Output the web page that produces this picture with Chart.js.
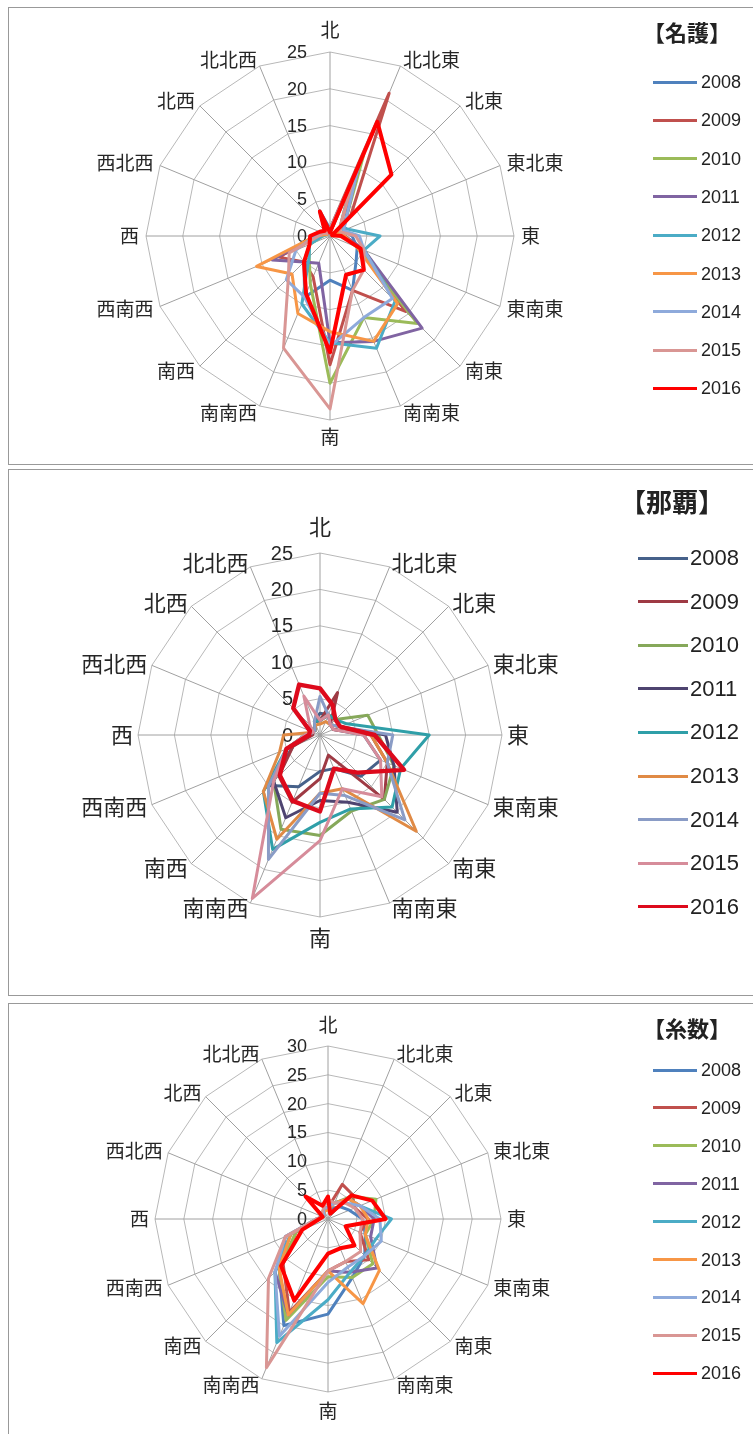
<!DOCTYPE html>
<html>
<head>
<meta charset="utf-8">
<script src="https://cdn.jsdelivr.net/npm/chart.js@4/dist/chart.umd.min.js"></script>
<style>
  body { margin: 0; background: #fff; width: 753px; height: 1434px; overflow: hidden; position: relative; }
  .frame { position: absolute; left: 8px; width: 820px; border: 1px solid #999; box-sizing: border-box; }
  canvas { position: absolute; left: 0; }
  .title { position: absolute; font-family: "Noto Sans CJK JP"; font-weight: bold; color: #222; white-space: nowrap; transform: translate(-50%, -50%); }
  .key { position: absolute; height: 20px; }
  .key i { position: absolute; left: 0; top: 50%; height: 3px; margin-top: -1.5px; }
  .key span { position: absolute; top: 50%; transform: translateY(-50%); font-family: "Liberation Sans"; color: #222; white-space: nowrap; }
</style>
</head>
<body>
<div class="frame" style="top:7px;height:458px"></div>
<div class="frame" style="top:469px;height:527px"></div>
<div class="frame" style="top:1003px;height:500px"></div>

<canvas id="nago" width="753" height="466" style="top:0"></canvas>
<canvas id="naha" width="753" height="534" style="top:466px"></canvas>
<canvas id="itokazu" width="753" height="434" style="top:1000px"></canvas>

<script>
// ---- data -------------------------------------------------------------
const directions = ['北', '北北東', '北東', '東北東', '東', '東南東', '南東', '南南東',
                    '南', '南南西', '南西', '西南西', '西', '西北西', '北西', '北北西'];
const years = ['2008', '2009', '2010', '2011', '2012', '2013', '2014', '2015', '2016'];

// 名護 (one row per year, 16 directions starting at 北, clockwise)
const nagoValues = [
  [1, 8, 3, 2, 3, 4, 5, 8, 6, 9, 5, 3, 1.5, 1, 1, 3.7],
  [1, 21, 4, 1, 2, 5, 14.5, 8, 17.5, 6, 5, 7.5, 2, 1, 0.5, 1],
  [0.5, 12, 3, 1, 2, 4, 16.8, 12, 20, 7, 4, 3, 1, 0.5, 0.5, 1],
  [0.5, 10, 3, 1, 2, 5, 17.7, 15.5, 14.5, 4, 5, 8.5, 2, 1, 0.5, 1],
  [1, 7, 2, 2.5, 6.8, 5, 12.5, 16.5, 14.5, 10, 4, 3, 1, 0.5, 1, 2],
  [0.5, 8, 2, 1, 2, 4, 13, 15.5, 13, 11.4, 7.3, 10.8, 2, 0.5, 0.5, 1],
  [1, 10, 3, 2, 4, 5, 12, 12, 15, 9, 8.4, 5, 2, 1, 1, 1.5],
  [1, 8, 2, 1.5, 3.5, 5, 6.5, 8, 23.5, 16.5, 8, 6, 1.5, 1, 0.5, 1],
  [0.5, 16.8, 11.8, 0.3, 1.5, 4.5, 6.5, 5.7, 15.8, 8.5, 5, 3, 2.7, 1.5, 1, 3.6]
];

// 那覇
const nahaValues = [
  [3, 3, 2, 2, 6, 9, 8, 5, 5, 7.7, 9.8, 4, 1.5, 1, 1, 2],
  [2, 6.3, 2, 2, 7, 10, 12.5, 3, 6, 10, 8, 4, 1, 1, 1, 2],
  [2, 3, 3, 7.1, 8, 11, 12.5, 11.3, 13.8, 14, 9, 5, 2, 1, 1, 2],
  [2, 3, 2, 3, 9, 11, 15, 10, 9, 12.3, 9, 5, 2, 1, 1, 2],
  [2, 3, 3, 4, 15, 12, 14, 11, 12, 17, 11, 5, 2, 1, 1, 2],
  [1.5, 2, 2, 3, 7, 10, 18.7, 8, 8, 15.5, 11, 6, 5, 1, 1, 1.5],
  [5.3, 3, 2, 3, 10, 10, 16.5, 9, 8, 18.5, 10, 5, 2, 1, 1, 2],
  [2, 3, 2, 2, 6, 9, 12, 8, 14.5, 24.3, 9, 5, 2, 1, 2, 5.8],
  [6.4, 4.5, 3, 3, 7.5, 12.5, 7.3, 5, 10.5, 9.8, 7.8, 5, 1.5, 1.5, 5.2, 7.5]
];

// 糸数
const itokazuValues = [
  [2, 2, 3, 4, 6, 7, 9, 11, 16.5, 20, 12, 8, 2, 1, 1, 1.5],
  [2, 6.5, 6, 5, 7, 6, 10, 8, 9, 17.5, 11, 6, 1.5, 1, 1, 2],
  [2, 3, 5.5, 9, 8, 7, 11, 11, 10, 19, 12, 6, 1.5, 1, 1, 2],
  [2, 3, 5, 6, 8, 8, 12, 10, 9, 18, 13, 7, 2, 1, 1, 2],
  [2, 3, 5, 6, 11, 9, 9, 10, 14, 23.2, 13, 7, 2, 1, 1, 2],
  [1.5, 3, 5, 6, 7, 7, 12.6, 15.9, 9, 18, 12, 7, 2, 1, 1, 1.5],
  [2, 3, 4, 6, 9, 10, 9, 9, 11, 22, 13, 8, 2, 1, 1, 2],
  [3.4, 3, 4, 5, 6, 6, 8, 8, 9, 27.9, 14.6, 8, 2, 1, 1.5, 2],
  [3.9, 1, 5.8, 8.3, 10, 3.3, 6.5, 5.5, 6, 15.3, 11.5, 4.8, 1.5, 1, 5.5, 2.5]
];

const officeColors = ['#4F81BD', '#C0504D', '#9BBB59', '#8064A2', '#4BACC6',
                      '#F79646', '#8EAADB', '#D99694', '#FF0000'];
const nahaColors = ['#46618a', '#9e3a44', '#86a85a', '#4e4470', '#2f9fa8',
                    '#e08a45', '#8a9cc6', '#d68c9a', '#dd0a1c'];

// ---- drawing ----------------------------------------------------------

// tick numbers (incl. 0) left of the 北 axis, and the direction names
const axisText = {
  id: 'axisText',
  beforeDatasetsDraw(chart, args, o) {
    const s = chart.scales.r;
    const ctx = chart.ctx;
    ctx.save();
    ctx.fillStyle = '#262626';
    ctx.font = o.tickSize + 'px "Liberation Sans"';
    ctx.textAlign = 'right';
    ctx.textBaseline = 'middle';
    s.ticks.forEach(t => {
      const y = s.yCenter - s.getDistanceFromCenterForValue(t.value);
      ctx.fillText(String(t.value), s.xCenter - o.tickGap, y + 1);
    });

    ctx.font = o.labelSize + 'px "Noto Sans CJK JP"';
    directions.forEach((name, i) => {
      const deg = i * 360 / directions.length;
      let dist, align;
      if (deg === 0) { dist = s.drawingArea + o.northGap + o.labelSize / 2; align = 'center'; }
      else if (deg === 180) { dist = s.drawingArea + o.southGap + o.labelSize / 2; align = 'center'; }
      else { dist = s.drawingArea + o.sideGap; align = deg < 180 ? 'left' : 'right'; }
      const p = s.getPointPosition(i, dist);
      ctx.textAlign = align;
      ctx.fillText(name, p.x, p.y);
    });
    ctx.restore();
  }
};

function drawRose(id, values, colors, cfg) {
  new Chart(document.getElementById(id), {
    type: 'radar',
    data: {
      labels: directions,
      datasets: years.map((y, i) => ({
        label: y,
        data: values[i],
        borderColor: colors[i],
        borderWidth: i === years.length - 1 ? cfg.redWidth : cfg.lineWidth,
        borderJoinStyle: 'round',
        pointRadius: 0,
        fill: false,
        order: years.length - i   // later years on top
      }))
    },
    options: {
      responsive: false,
      animation: false,
      events: [],
      elements: { line: { tension: 0 } },
      plugins: {
        legend: { display: false },
        tooltip: { enabled: false },
        axisText: cfg.text
      },
      scales: {
        r: {
          min: 0,
          max: cfg.max,
          ticks: { display: false, stepSize: 5 },
          pointLabels: { display: false },
          grid: { color: '#b8b8b8', lineWidth: 1 },
          angleLines: { color: '#a0a0a0', lineWidth: 1 },
          afterFit(scale) {
            scale.xCenter = cfg.cx;
            scale.yCenter = cfg.cy;
            scale.drawingArea = cfg.radius;
          }
        }
      }
    },
    plugins: [axisText]
  });
}

drawRose('nago', nagoValues, officeColors, {
  cx: 330, cy: 236, radius: 184, max: 25, lineWidth: 3, redWidth: 4,
  text: { tickSize: 18, tickGap: 23, labelSize: 19, northGap: 13, southGap: 7, sideGap: 7 }
});
drawRose('naha', nahaValues, nahaColors, {
  cx: 320, cy: 269, radius: 182, max: 25, lineWidth: 3, redWidth: 4.4,
  text: { tickSize: 20, tickGap: 27, labelSize: 22, northGap: 15, southGap: 10, sideGap: 5 }
});
drawRose('itokazu', itokazuValues, officeColors, {
  cx: 328, cy: 219, radius: 173, max: 30, lineWidth: 3, redWidth: 4,
  text: { tickSize: 18, tickGap: 21, labelSize: 19, northGap: 12, southGap: 9, sideGap: 6 }
});

// ---- titles and legends (HTML) ----------------------------------------
function addTitle(text, x, y, size) {
  const d = document.createElement('div');
  d.className = 'title';
  d.textContent = text;
  d.style.left = x + 'px';
  d.style.top = y + 'px';
  d.style.fontSize = size + 'px';
  document.body.appendChild(d);
}

function addLegend(colors, lineX, lineW, textX, firstY, step, size) {
  years.forEach((y, i) => {
    const row = document.createElement('div');
    row.className = 'key';
    row.style.left = lineX + 'px';
    row.style.top = (firstY + i * step - 10) + 'px';
    row.style.width = '120px';
    const line = document.createElement('i');
    line.style.width = lineW + 'px';
    line.style.background = colors[i];
    const label = document.createElement('span');
    label.textContent = y;
    label.style.left = (textX - lineX) + 'px';
    label.style.fontSize = size + 'px';
    row.appendChild(line);
    row.appendChild(label);
    document.body.appendChild(row);
  });
}

addTitle('【名護】', 687, 31, 22);
addLegend(officeColors, 653, 44, 701, 82, 38.3, 18);

addTitle('【那覇】', 672, 500, 26);
addLegend(nahaColors, 638, 50, 690, 558, 43.6, 22);

addTitle('【糸数】', 687, 1027, 22);
addLegend(officeColors, 653, 44, 701, 1070, 37.9, 18);
</script>
</body>
</html>
